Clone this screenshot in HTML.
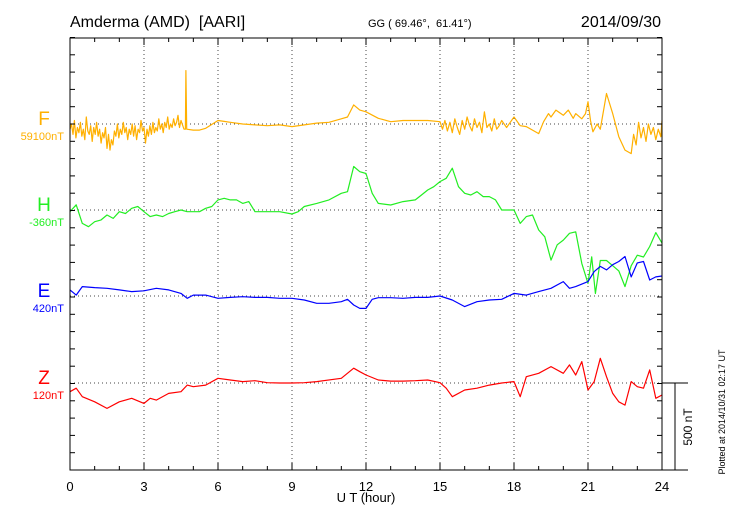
<!DOCTYPE html>
<html><head><meta charset="utf-8"><style>
body{margin:0;background:#fff;}
svg{display:block;font-family:"Liberation Sans",sans-serif;}
</style></head><body>
<svg id="chart" width="730" height="520" viewBox="0 0 730 520" xmlns="http://www.w3.org/2000/svg">
<text x="70" y="27" font-size="16" xml:space="preserve">Amderma (AMD)  [AARI]</text>
<text x="368" y="27" font-size="11" xml:space="preserve">GG ( 69.46°,  61.41°)</text>
<text x="661" y="27" font-size="16" text-anchor="end">2014/09/30</text>
<g id="grid"></g>
<g id="series"></g>
<g id="axes"></g>
<text x="366" y="502" font-size="13" text-anchor="middle">U T (hour)</text>
<text transform="translate(692,427) rotate(-90)" font-size="12" text-anchor="middle">500 nT</text>
<text transform="translate(725,412) rotate(-90)" font-size="9" text-anchor="middle">Plotted at 2014/10/31 02:17 UT</text>
</svg>
<script>
const xTicks=[0,3,6,9,12,15,18,21,24];
const seriesNames=["F","H","E","Z"];
const baseLabels=["59100nT","-360nT","420nT","120nT"];
const colors=["#ffb000","#22ee22","#0000ff","#ff0000"];
const fHours=[0,.06,.12,.18,.24,.3,.36,.42,.48,.54,.6,.66,.72,.78,.84,.9,.96,1.02,1.08,1.14,1.2,1.26,1.32,1.38,1.44,1.5,1.56,1.62,1.68,1.74,1.8,1.86,1.92,1.98,2.04,2.1,2.16,2.22,2.28,2.34,2.4,2.46,2.52,2.58,2.64,2.7,2.76,2.82,2.88,2.94,3,3.06,3.12,3.18,3.24,3.3,3.36,3.42,3.48,3.54,3.6,3.66,3.72,3.78,3.84,3.9,3.96,4.02,4.08,4.14,4.2,4.26,4.32,4.38,4.44,4.5,4.62,4.68,4.7,4.73,5,5.25,5.5,6,6.25,6.5,7,7.5,8,8.5,9,9.5,10,10.5,11,11.25,11.5,11.75,12,12.5,13,13.5,14,14.5,15,15.1,15.2,15.3,15.4,15.5,15.6,15.7,15.8,15.9,16,16.1,16.2,16.3,16.4,16.5,16.6,16.7,16.8,16.9,17,17.1,17.2,17.3,17.4,17.5,17.7,18,18.25,18.5,19,19.2,19.4,19.5,19.7,20,20.2,20.4,20.5,20.75,20.9,21,21.1,21.2,21.37,21.5,21.75,22,22.25,22.5,22.75,22.85,22.95,23.05,23.15,23.25,23.35,23.45,23.55,23.65,23.75,23.85,23.95,24];
const fValues=[-30,0,-60,20,-80,-20,-50,10,-70,-30,-90,40,-40,-60,-10,-100,-20,-60,10,-70,-30,-110,-50,-80,-20,-140,-60,-150,-90,-120,-40,-70,0,-80,-30,-60,10,-50,-20,-90,-30,-60,0,-70,-10,-90,-30,-50,20,-40,-20,-110,-30,-70,-10,-60,10,-50,-20,-40,30,-30,0,-50,10,-20,40,-30,0,-20,30,-10,10,50,-20,20,-30,-30,307,-30,-35,-35,-25,20,15,10,0,-5,-10,-5,-15,-5,5,10,30,40,110,80,70,33,13,20,20,20,13,-30,20,-40,10,-50,30,-20,-60,20,-30,40,-10,-40,30,-20,10,-50,70,-20,0,-40,30,-30,-10,20,-20,40,-10,-15,-55,13,60,40,80,50,80,33,60,30,60,128,20,-45,0,-30,175,60,-73,-150,-170,-60,-120,10,-80,-20,-100,0,-60,-20,-90,-30,-73,20,-50,-30];
const hHours=[0,.25,.5,.75,1,1.25,1.5,1.75,2,2.25,2.5,2.75,3,3.25,3.5,3.75,4,4.25,4.5,4.75,5,5.25,5.5,5.75,6,6.25,6.5,6.75,7,7.25,7.5,8,8.5,9,9.25,9.5,10,10.5,11,11.25,11.5,11.75,12,12.25,12.5,13,13.5,14,14.25,14.5,14.75,15,15.25,15.5,15.75,16,16.25,16.5,16.75,17,17.25,17.5,18,18.25,18.5,18.75,19,19.25,19.5,19.75,20,20.25,20.5,20.75,21,21.15,21.3,21.5,21.75,22,22.25,22.5,22.75,23,23.25,23.5,23.75,24];
const hValues=[-10,30,-77,-96,-67,-58,-29,-48,-10,-20,10,20,-10,-38,-29,-38,-20,-10,0,-10,-10,-10,10,20,58,67,58,58,38,48,-10,-10,-10,-23,-10,20,38,58,96,105,250,220,210,96,38,29,48,58,86,115,134,163,182,240,134,96,86,105,77,77,58,0,0,-77,-38,-29,-115,-154,-288,-200,-173,-134,-125,-307,-422,-269,-480,-290,-290,-320,-350,-440,-320,-260,-270,-210,-130,-190];
const eHours=[0,.25,.5,1,1.5,2,2.5,3,3.5,4,4.5,4.75,5,5.5,6,6.5,7,7.5,8,8.5,9,9.5,10,10.5,11,11.25,11.5,11.75,12,12.25,12.5,13,13.5,14,14.5,15,15.5,16,16.5,17,17.5,18,18.5,19,19.5,20,20.25,20.5,21,21.25,21.5,21.75,22,22.25,22.5,22.75,23,23.25,23.5,23.75,24];
const eValues=[35,5,54,48,44,35,25,30,44,35,15,-13,5,5,-13,-8,-4,-8,-8,-13,-13,-23,-42,-42,-33,-19,-52,-71,-71,-19,-10,-10,-13,-8,-8,0,-23,-61,-33,-23,-19,15,5,25,44,83,44,54,83,140,170,150,180,198,227,110,190,198,92,110,115];
const zHours=[0,.25,.5,1,1.5,2,2.5,3,3.25,3.5,4,4.5,4.75,5,5.5,6,6.5,7,7.5,8,8.5,9,9.5,10,11,11.5,11.75,12,12.5,13,13.5,14,14.5,15,15.25,15.5,16,16.5,17,17.5,18,18.25,18.5,19,19.5,20,20.25,20.5,20.75,21,21.25,21.5,21.75,22,22.25,22.5,22.75,23,23.25,23.5,23.75,24];
const zValues=[-50,-30,-79,-108,-146,-108,-88,-117,-88,-98,-60,-50,-12,-21,-12,27,17,8,13,2,0,0,2,8,27,85,65,46,17,11,11,13,17,2,-30,-79,-40,-30,-12,0,8,-79,36,56,94,56,104,46,123,-40,8,142,36,-60,-108,-127,8,-21,-30,75,-88,-69];
const hoursArr=[fHours,hHours,eHours,zHours];
const valuesArr=[fValues,hValues,eValues,zValues];

const X0=70,X1=662,Y0=38,Y1=470,BASE=[124,210,296,383],PXNT=87/500;
const xs=h=>X0+(X1-X0)*h/24;
const ys=(i,v)=>BASE[i]-v*PXNT;
const NS="http://www.w3.org/2000/svg";
function mk(tag,attrs,parent){const e=document.createElementNS(NS,tag);for(const k in attrs)e.setAttribute(k,attrs[k]);parent.appendChild(e);return e;}
const grid=document.getElementById('grid'),axes=document.getElementById('axes'),ser=document.getElementById('series');
xTicks.forEach(t=>{if(t>0&&t<24){const l=mk('line',{x1:xs(t),x2:xs(t),y1:Y0,y2:Y1,stroke:'#444','stroke-width':1,'stroke-dasharray':'1,3'},grid);

}});
BASE.forEach(b=>{const l=mk('line',{x1:X0,x2:X1,y1:b,y2:b,stroke:'#444','stroke-width':1,'stroke-dasharray':'1,3'},grid);

});
const frame=mk('rect',{x:X0,y:Y0,width:X1-X0,height:Y1-Y0,fill:'none',stroke:'#000','stroke-width':1},axes);


for(let h=0;h<=24;h++){const len=h%3===0?7:4;
mk('line',{x1:xs(h),x2:xs(h),y1:Y1,y2:Y1-len,stroke:'#000'},axes);
mk('line',{x1:xs(h),x2:xs(h),y1:Y0,y2:Y0+len,stroke:'#000'},axes);}
for(let y=BASE[3]+87;y>=Y0-1;y-=17.3){
mk('line',{x1:X0,x2:X0+5,y1:y,y2:y,stroke:'#000'},axes);
mk('line',{x1:X1,x2:X1-5,y1:y,y2:y,stroke:'#000'},axes);}
xTicks.forEach(t=>{const tx=mk('text',{x:xs(t),y:491,'font-size':13,'text-anchor':'middle'},axes);tx.textContent=t;

});
const sb=mk('path',{d:`M${X1} 383 H688 M675 383 V470 M${X1} 470 H688`,stroke:'#000',fill:'none'},axes);


seriesNames.forEach((n,i)=>{
const d=hoursArr[i].map((h,j)=>(j?'L':'M')+xs(h).toFixed(1)+' '+ys(i,valuesArr[i][j]).toFixed(1)).join(' ');
const p=mk('path',{d:d,fill:'none',stroke:colors[i],'stroke-width':1.2,'stroke-linejoin':'round'},ser);


const t=mk('text',{x:44,y:BASE[i]+1,'font-size':19,'text-anchor':'middle',fill:colors[i]},axes);t.textContent=n;


const b=mk('text',{x:64,y:BASE[i]+16,'font-size':11,'text-anchor':'end',fill:colors[i]},axes);b.textContent=baseLabels[i];


});
</script>
</body></html>
